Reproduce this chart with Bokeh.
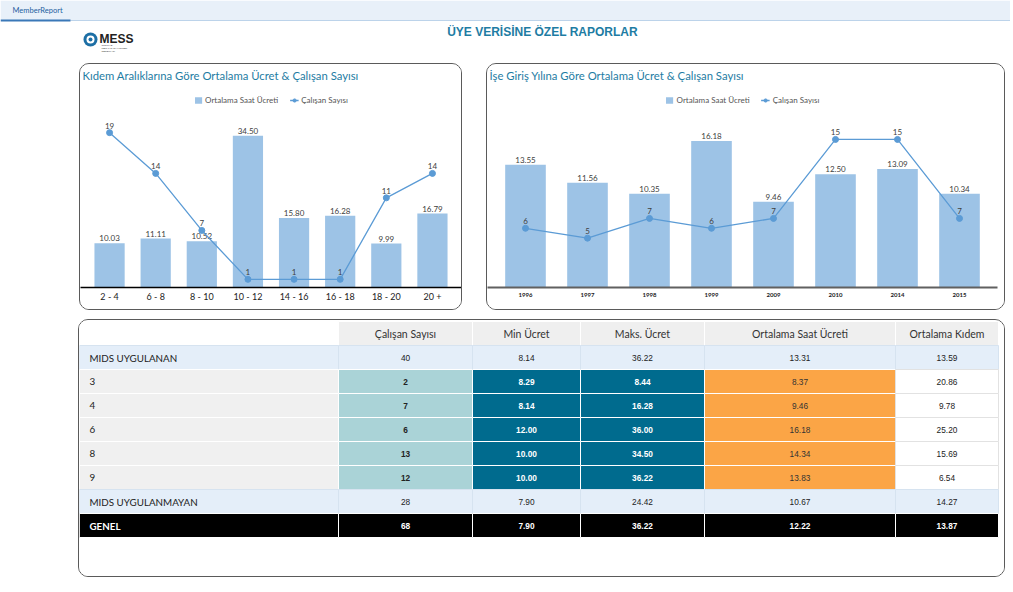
from bokeh.plotting import figure
from bokeh.models import FactorRange, Range1d, Legend, LegendItem, Label, Spacer
from bokeh.layouts import column, row
from bokeh.embed import file_html
from bokeh.resources import INLINE
from bokeh.core.properties import value

# ---------------- data ----------------
kidem_cats = ["2 - 4", "6 - 8", "8 - 10", "10 - 12", "14 - 16", "16 - 18", "18 - 20", "20 +"]
kidem_ucret = [10.03, 11.11, 10.52, 34.50, 15.80, 16.28, 9.99, 16.79]
kidem_calisan = [19, 14, 7, 1, 1, 1, 11, 14]

yil_cats = ["1996", "1997", "1998", "1999", "2009", "2010", "2014", "2015"]
yil_ucret = [13.55, 11.56, 10.35, 16.18, 9.46, 12.50, 13.09, 10.34]
yil_calisan = [6, 5, 7, 6, 7, 15, 15, 7]

table_headers = ["", "Çalışan Sayısı", "Min Ücret", "Maks. Ücret", "Ortalama Saat Ücreti", "Ortalama Kıdem"]
row_labels = ["MIDS UYGULANAN", "3", "4", "6", "8", "9", "MIDS UYGULANMAYAN", "GENEL"]
row_kind = ["group", "sub", "sub", "sub", "sub", "sub", "group", "total"]
calisan_sayisi = [40, 2, 7, 6, 13, 12, 28, 68]
min_ucret = [8.14, 8.29, 8.14, 12.00, 10.00, 10.00, 7.90, 7.90]
maks_ucret = [36.22, 8.44, 16.28, 36.00, 34.50, 36.22, 24.42, 36.22]
ort_saat_ucreti = [13.31, 8.37, 9.46, 16.18, 14.34, 13.83, 10.67, 12.22]
ort_kidem = [13.59, 20.86, 9.78, 25.20, 15.69, 6.54, 14.27, 13.87]

page_title = "ÜYE VERİSİNE ÖZEL RAPORLAR"
tab_label = "MemberReport"
chart1_title = "Kıdem Aralıklarına Göre Ortalama Ücret & Çalışan Sayısı"
chart2_title = "İşe Giriş Yılına Göre Ortalama Ücret & Çalışan Sayısı"
legend_bar = "Ortalama Saat Ücreti"
legend_line = "Çalışan Sayısı"

BAR = "#9dc3e6"
LINE = "#5b9bd5"
TEAL = "#1e7ca3"
PANEL_STYLE = {"border": "1px solid #5a5a5a", "border-radius": "10px", "overflow": "hidden"}


def make_chart(title, cats, ucret, calisan, span_px, pad_px, br, height, bb,
               px_bar, px_line, axis_font, axis_bold, axis_color, axis_w, standoff):
    frame_h = height - bb
    per_cat = span_px / len(cats)
    width = span_px + 2 * pad_px + br
    xr = FactorRange(*cats, range_padding=pad_px / per_cat, range_padding_units="absolute")
    p = figure(width=width, height=height, x_range=xr,
               y_range=Range1d(0, frame_h / px_bar), y_axis_location=None,
               toolbar_location=None, output_backend="svg",
               min_border_left=0, min_border_right=br, min_border_top=0,
               min_border_bottom=bb, styles=PANEL_STYLE)
    p.extra_y_ranges = {"count": Range1d(0, frame_h / px_line)}
    p.outline_line_color = None
    p.grid.visible = False
    p.background_fill_color = "white"
    p.border_fill_color = "white"

    ax = p.xaxis[0]
    ax.axis_line_color = axis_color
    ax.axis_line_width = axis_w
    ax.major_tick_line_color = None
    ax.minor_tick_line_color = None
    ax.major_tick_out = 0
    ax.major_tick_in = 0
    ax.major_label_text_font = "Lato"
    ax.major_label_text_font_size = axis_font
    ax.major_label_text_font_style = "bold" if axis_bold else "normal"
    ax.major_label_text_color = "#222222"
    ax.major_label_standoff = standoff

    bars = p.vbar(x=cats, top=ucret, width=0.655, fill_color=BAR, line_color=None)
    p.text(x=cats, y=ucret, text=["%.2f" % v for v in ucret], y_offset=-2,
           text_align="center", text_baseline="bottom", text_font=value("Lato"),
           text_font_size="8px", text_color="#404040")

    ln = p.line(x=cats, y=calisan, y_range_name="count", line_color=LINE, line_width=1.3)
    mk = p.scatter(x=cats, y=calisan, y_range_name="count", size=6, marker="circle",
                   fill_color=LINE, line_color=LINE)
    p.text(x=cats, y=calisan, text=[str(v) for v in calisan], y_range_name="count",
           y_offset=-4, text_align="center", text_baseline="bottom",
           text_font=value("Lato"), text_font_size="8px", text_color="#404040")

    leg = Legend(items=[LegendItem(label=legend_bar, renderers=[bars]),
                        LegendItem(label=legend_line, renderers=[ln, mk])],
                 location="top_center", orientation="horizontal", margin=31,
                 padding=0, spacing=11, label_standoff=3, glyph_width=9,
                 glyph_height=8, label_height=8, label_text_font="Lato",
                 label_text_font_size="8px", label_text_color="#555555",
                 border_line_color=None, background_fill_alpha=0)
    p.add_layout(leg, "center")

    p.add_layout(Label(x=2, y=frame_h - 11, x_units="screen", y_units="screen",
                       text=title, text_font="Lato", text_font_size="11.3px",
                       text_color=TEAL, text_baseline="middle", text_align="left"))
    return p


left = make_chart(chart1_title, kidem_cats, kidem_ucret, kidem_calisan,
                  369, 6, 2, 247, 24, 4.4, 8.15, "9px", False, "#000000", 1.5, 3)
right = make_chart(chart2_title, yil_cats, yil_ucret, yil_calisan,
                   496, 7, 9, 247, 24, 9.06, 9.87, "6px", True, "#606060", 2, 5)

# ---------------- header (page pixel coords) ----------------
hdr = figure(width=1010, height=63, x_range=Range1d(0, 1010), y_range=Range1d(63, 0),
             toolbar_location=None, output_backend="svg", min_border=0,
             x_axis_location=None, y_axis_location=None)
hdr.outline_line_color = None
hdr.grid.visible = False
hdr.quad(left=0, right=1010, top=0, bottom=20, fill_color="#e8f0f9", line_color=None)
hdr.segment(x0=70, y0=20, x1=1010, y1=20, line_color="#bcd3ea", line_width=1)
hdr.segment(x0=0, y0=20, x1=70, y1=20, line_color="#3a78b8", line_width=2)
hdr.text(x=12, y=10, text=[tab_label], text_font=value("Lato"), text_font_size="7.5px",
         text_color="#1f5fa0", text_baseline="middle")
hdr.text(x=542, y=31, text=[page_title], text_font=value("Liberation Sans"),
         text_font_size="12px", text_font_style="bold", text_color=TEAL,
         text_align="center", text_baseline="middle")
# logo
hdr.circle(x=90, y=39, radius=7, fill_color="#1d6fa5", line_color=None)
hdr.circle(x=90, y=39, radius=4, fill_color="white", line_color=None)
hdr.circle(x=90, y=39, radius=2, fill_color="#1d6fa5", line_color=None)
hdr.text(x=99, y=38, text=["MESS"], text_font=value("Liberation Sans"), text_font_size="12px",
         text_font_style="bold", text_color="#222222", text_baseline="middle")
hdr.text(x=101, y=[45, 48, 51], text=["TÜRKİYE", "METAL SANAYİCİLERİ", "SENDİKASI"],
         text_font=value("Liberation Sans"), text_font_size="2.5px", text_color="#333333",
         text_baseline="middle")

# ---------------- table ----------------
TW, TH = 927, 258
tbl = figure(width=TW, height=TH, x_range=Range1d(0, TW), y_range=Range1d(TH, 0),
             toolbar_location=None, output_backend="svg", min_border=0,
             x_axis_location=None, y_axis_location=None, styles=PANEL_STYLE)
tbl.outline_line_color = None
tbl.grid.visible = False

col_edges = [0, 259, 393, 501, 625, 816, 919]
head_top, row_h = 1, 24
cols = [calisan_sayisi, min_ucret, maks_ucret, ort_saat_ucreti, ort_kidem]

L, R, T, B, F, LC = [], [], [], [], [], []
tx, ty, tt, tc, tb = [], [], [], [], []
lx, ly, lt, lc, lbold = [], [], [], [], []

for j in range(6):
    L.append(col_edges[j]); R.append(col_edges[j + 1])
    T.append(head_top); B.append(head_top + row_h)
    F.append("white" if j == 0 else "#efefef"); LC.append("white")

for i, lab in enumerate(row_labels):
    kind = row_kind[i]
    top = head_top + row_h * (i + 1)
    for j in range(6):
        if kind == "group":
            fill, lcol, tcol, bold = "#e4eef9", "#d6e3f0", "#222222", False
        elif kind == "total":
            fill, lcol, tcol, bold = "#000000", "white", "white", True
        else:
            fill, lcol, tcol, bold = [("#f0f0f0", "white", "#222222", False),
                                      ("#aad3d7", "white", "#222222", True),
                                      ("#006b8e", "white", "white", True),
                                      ("#006b8e", "white", "white", True),
                                      ("#fba546", "white", "#333333", False),
                                      ("white", "#e2e2e2", "#222222", False)][j]
        L.append(col_edges[j]); R.append(col_edges[j + 1])
        T.append(top); B.append(top + row_h); F.append(fill); LC.append(lcol)
        if j == 0:
            lx.append(10); ly.append(top + row_h / 2); lt.append(lab)
            lc.append(tcol); lbold.append("bold" if kind == "total" else "normal")
        else:
            v = cols[j - 1][i]
            tx.append((col_edges[j] + col_edges[j + 1]) / 2); ty.append(top + row_h / 2)
            tt.append(str(v) if j == 1 else "%.2f" % v)
            tc.append(tcol); tb.append("bold" if bold else "normal")

tbl.quad(left=L, right=R, top=T, bottom=B, fill_color=F, line_color=LC, line_width=1)
tbl.text(x=[(col_edges[j] + col_edges[j + 1]) / 2 for j in range(1, 6)],
         y=[head_top + row_h / 2] * 5, text=table_headers[1:], text_font=value("Lato"),
         text_font_size="10.5px", text_color="#333333", text_align="center",
         text_baseline="middle")
tbl.text(x=lx, y=ly, text=lt, text_color=lc, text_font_style=lbold,
         text_font=value("Lato"), text_font_size="9.8px", text_baseline="middle")
tbl.text(x=tx, y=ty, text=tt, text_color=tc, text_font_style=tb,
         text_font=value("Liberation Sans"), text_font_size="8.3px",
         text_align="center", text_baseline="middle")

layout = column(
    hdr,
    row(Spacer(width=79, height=247), left, Spacer(width=24, height=247), right),
    Spacer(width=10, height=9),
    row(Spacer(width=78, height=258), tbl),
)

open("out.html", "w").write(file_html(layout, INLINE))
